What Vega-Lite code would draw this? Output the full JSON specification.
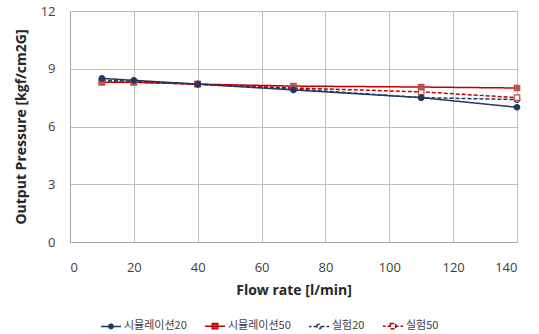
{
  "$schema": "https://vega.github.io/schema/vega-lite/v6.json",
  "width": 447,
  "height": 231,
  "autosize": {"type": "none"},
  "padding": {"left": 70, "top": 11, "right": 22, "bottom": 92},
  "background": "white",
  "config": {
    "view": {"stroke": "#A6A6A6", "strokeWidth": 1},
    "axis": {
      "labelFont": "Open Sans",
      "titleFont": "Open Sans",
      "labelFontSize": 13,
      "labelColor": "#404040",
      "titleColor": "#262626",
      "titleFontSize": 14,
      "titleFontWeight": "bold",
      "gridColor": "#BFBFBF",
      "domainColor": "#A6A6A6",
      "ticks": false
    }
  },
  "data": {
    "values": [
      {"flow": 10, "p": 8.4, "s": "실험20", "o": 1},
      {"flow": 20, "p": 8.35, "s": "실험20", "o": 1},
      {"flow": 40, "p": 8.2, "s": "실험20", "o": 1},
      {"flow": 70, "p": 7.95, "s": "실험20", "o": 1},
      {"flow": 110, "p": 7.5, "s": "실험20", "o": 1},
      {"flow": 140, "p": 7.4, "s": "실험20", "o": 1},
      {"flow": 10, "p": 8.3, "s": "실험50", "o": 2},
      {"flow": 20, "p": 8.3, "s": "실험50", "o": 2},
      {"flow": 40, "p": 8.2, "s": "실험50", "o": 2},
      {"flow": 70, "p": 8.0, "s": "실험50", "o": 2},
      {"flow": 110, "p": 7.8, "s": "실험50", "o": 2},
      {"flow": 140, "p": 7.5, "s": "실험50", "o": 2},
      {"flow": 10, "p": 8.3, "s": "시뮬레이션50", "o": 3},
      {"flow": 20, "p": 8.3, "s": "시뮬레이션50", "o": 3},
      {"flow": 40, "p": 8.2, "s": "시뮬레이션50", "o": 3},
      {"flow": 70, "p": 8.1, "s": "시뮬레이션50", "o": 3},
      {"flow": 110, "p": 8.05, "s": "시뮬레이션50", "o": 3},
      {"flow": 140, "p": 8.0, "s": "시뮬레이션50", "o": 3},
      {"flow": 10, "p": 8.5, "s": "시뮬레이션20", "o": 4},
      {"flow": 20, "p": 8.4, "s": "시뮬레이션20", "o": 4},
      {"flow": 40, "p": 8.2, "s": "시뮬레이션20", "o": 4},
      {"flow": 70, "p": 7.9, "s": "시뮬레이션20", "o": 4},
      {"flow": 110, "p": 7.5, "s": "시뮬레이션20", "o": 4},
      {"flow": 140, "p": 7.0, "s": "시뮬레이션20", "o": 4}
    ]
  },
  "encoding": {
    "x": {
      "field": "flow", "type": "quantitative",
      "scale": {"domain": [0, 140], "nice": false},
      "axis": {"values": [0, 20, 40, 60, 80, 100, 120, 140], "title": "Flow rate [l/min]", "labelPadding": 19, "titlePadding": 9}
    },
    "y": {
      "field": "p", "type": "quantitative",
      "scale": {"domain": [0, 12], "nice": false},
      "axis": {"values": [0, 3, 6, 9, 12], "title": "Output Pressure [kgf/cm2G]", "labelPadding": 15, "titlePadding": 12}
    }
  },
  "layer": [
    {
      "mark": {"type": "line", "strokeWidth": 1.5},
      "encoding": {
        "color": {
          "field": "s", "type": "nominal",
          "scale": {"domain": ["시뮬레이션20", "시뮬레이션50", "실험20", "실험50"], "range": ["#1F3864", "#C00000", "#1F3864", "#C00000"]},
          "legend": {
            "title": null,
            "orient": "none",
            "direction": "horizontal",
            "columns": 4,
            "legendX": 30,
            "legendY": 304,
            "labelFont": "Noto Sans CJK KR",
            "labelFontSize": 11,
            "labelColor": "#404040",
            "labelOffset": 2,
            "columnPadding": 15,
            "symbolSize": 400,
            "symbolStrokeWidth": 1.5,
            "encode": {
              "symbols": {
                "update": {
                  "strokeDash": {"value": []},
                  "shape": {"signal": "datum.value === '시뮬레이션20' ? 'M-1,0H1M-0.22,0A0.22,0.22,0,1,1,0.22,0A0.22,0.22,0,1,1,-0.22,0Z' : datum.value === '시뮬레이션50' ? 'M-1,0H1M-0.27,-0.27H0.27V0.27H-0.27Z' : datum.value === '실험20' ? 'M-1,0H-0.75M-0.55,0H-0.3M0.3,0H0.55M0.75,0H1M-0.22,0A0.22,0.22,0,1,1,0.22,0A0.22,0.22,0,1,1,-0.22,0Z' : 'M-1,0H-0.75M-0.55,0H-0.32M0.32,0H0.55M0.75,0H1M-0.27,-0.27H0.27V0.27H-0.27Z'"},
                  "fill": {"signal": "datum.value === '시뮬레이션20' ? '#1F3864' : datum.value === '시뮬레이션50' ? '#C0504D' : 'white'"}
                }
              }
            }
          }
        },
        "strokeDash": {
          "field": "s", "type": "nominal",
          "scale": {"domain": ["시뮬레이션20", "시뮬레이션50", "실험20", "실험50"], "range": [[1, 0], [1, 0], [4, 2], [4, 2]]},
          "legend": null
        }
      }
    },
    {
      "mark": {"type": "point", "size": 30, "strokeWidth": 1.2, "opacity": 1},
      "encoding": {
        "order": {"field": "o", "type": "quantitative"},
        "shape": {
          "field": "s", "type": "nominal",
          "scale": {"domain": ["시뮬레이션20", "시뮬레이션50", "실험20", "실험50"], "range": ["circle", "square", "circle", "square"]},
          "legend": null
        },
        "fill": {
          "field": "s", "type": "nominal",
          "scale": {"domain": ["시뮬레이션20", "시뮬레이션50", "실험20", "실험50"], "range": ["#1F3864", "#C0504D", "white", "white"]},
          "legend": null
        },
        "stroke": {
          "field": "s", "type": "nominal",
          "scale": {"domain": ["시뮬레이션20", "시뮬레이션50", "실험20", "실험50"], "range": ["#1F3864", "#C0504D", "#1F3864", "#C0504D"]},
          "legend": null
        }
      }
    }
  ],
  "resolve": {"scale": {"color": "independent", "stroke": "independent", "fill": "independent", "shape": "independent", "strokeDash": "independent"}, "legend": {"color": "independent", "strokeDash": "independent", "shape": "independent", "fill": "independent", "stroke": "independent"}}
}
